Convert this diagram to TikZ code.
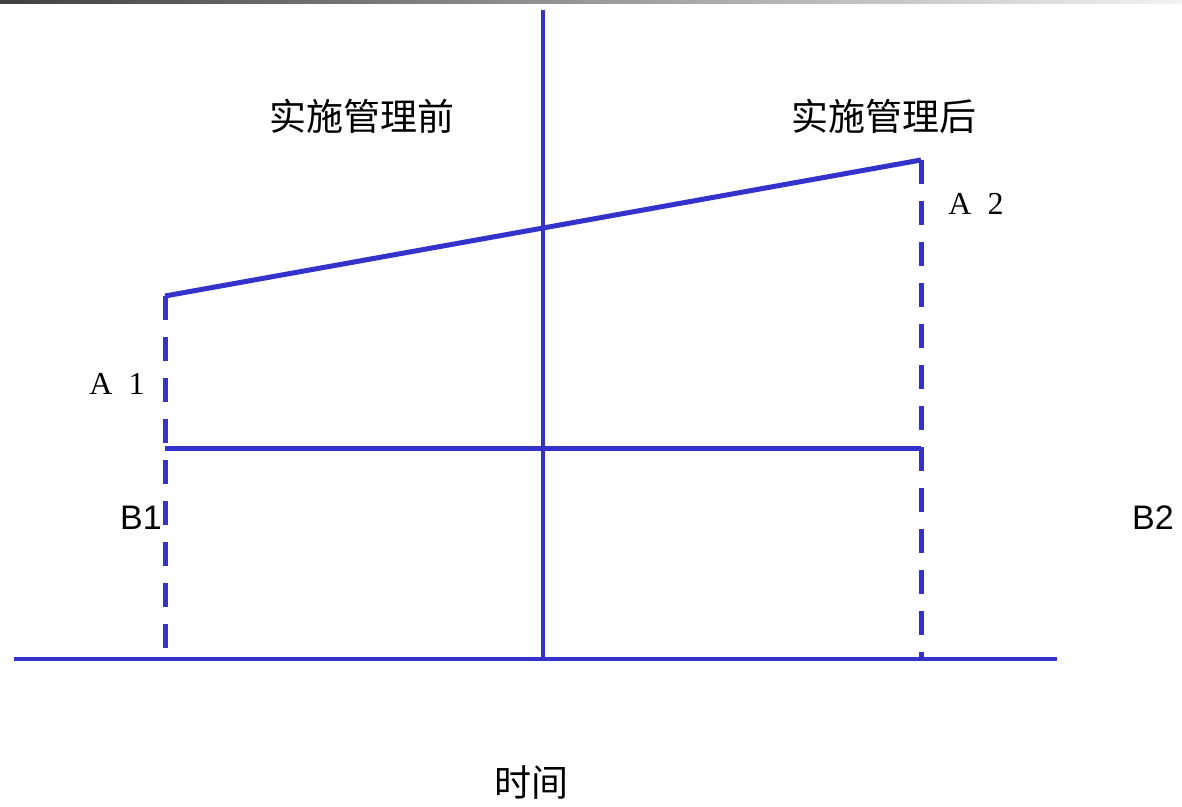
\documentclass[tikz,border=0pt]{standalone}
\usepackage{fontspec}
\setsansfont{Liberation Sans}
\newfontfamily\cjk{Noto Sans CJK SC}
\newfontfamily\serifA{Liberation Serif}
\usetikzlibrary{positioning}
\definecolor{lineblue}{RGB}{51,51,204}
\tikzset{
    axis/.style={lineblue, line width=4.5pt},
    solidline/.style={lineblue, line width=5pt},
    dashline/.style={lineblue, line width=5pt, dash pattern=on 24pt off 17pt},
    cjklabel/.style={font=\cjk\fontsize{37}{44}\selectfont, inner sep=0pt},
    alabel/.style={font=\serifA\fontsize{32}{38}\selectfont, inner sep=0pt},
    blabel/.style={font=\sffamily\fontsize{34}{40}\selectfont, inner sep=0pt}
}

\begin{document}
\begin{tikzpicture}[x=1pt, y=-1pt]
        \useasboundingbox (0,0) rectangle (1182,806);
        \shade[left color=black!75, right color=black!5] (0,0) rectangle (1182,3);
        % axes
        \coordinate (ytop) at (543,10);
        \coordinate (ybot) at (543,660);
        \coordinate (xleft) at (14,659);
        \coordinate (xright) at (1057,659);
        \draw [axis] (ytop) -- (ybot);
        \draw [axis] (xleft) -- (xright);
        % corner points
        \coordinate (a1) at (165,296);
        \coordinate (a2) at (921,160);
        \coordinate (b1) at (165,448);
        \coordinate (b2) at (921,448);
        \coordinate (f1) at (165,659);
        \coordinate (f2) at (921,659);
        \draw [solidline] (a1) -- (a2);
        \draw [solidline] (b1) -- (b2);
        \draw [dashline] (a1) -- (f1);
        \draw [dashline] (a2) -- (f2);
        % labels
        \node [cjklabel] (before) at (362,116) {实施管理前};
        \node [cjklabel] (after) at (884,116) {实施管理后};
        \node [cjklabel] (time) at (531,783) {时间};
        \node [alabel] (la1) at (117,384) {A\ \ 1};
        \node [alabel] (la2) at (976,204) {A\ \ 2};
        \node [blabel] (lb1) at (141,518) {B1};
        \node [blabel] (lb2) at (1153,518) {B2};
    \end{tikzpicture}
\end{document}
